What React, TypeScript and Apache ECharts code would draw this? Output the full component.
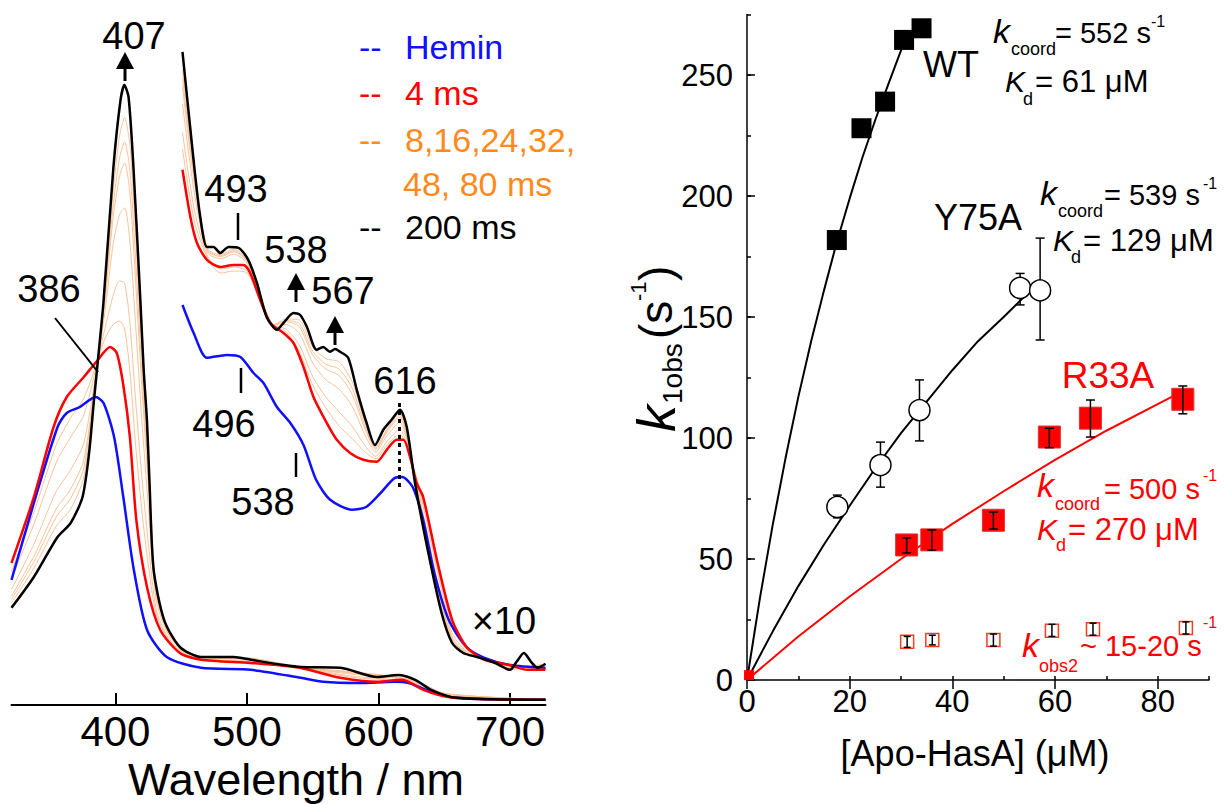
import React, { useEffect, useRef } from "react";
import * as echarts from "echarts";

const FONT = "Liberation Sans, Arial, Helvetica, sans-serif";

// ---------------- Left panel: spectra (wavelength nm, relative absorbance) ----------------
const hemin: [number, number][] = [
  [321, 31.3], [338, 50.5], [356, 69.5], [363, 73], [373, 74.5], [385, 77], [391, 75.5], [399, 67],
  [406, 52], [414, 33.8], [424, 18.8], [439, 12], [465, 9.3], [503, 8.8], [541, 6.8], [558, 5.8],
  [585, 5.5], [612, 5.8], [623, 5.5], [640, 3.3], [659, 1.8], [727, 1.3],
];
const ms4: [number, number][] = [
  [321, 35.5], [338, 52], [353, 69.5], [363, 77], [376, 82], [386, 86], [396, 89.5], [401, 88],
  [406, 80], [411, 67], [416, 46], [424, 29.5], [434, 18.8], [449, 13], [465, 11.3], [503, 10.5],
  [540, 9.3], [571, 6.8], [599, 5.8], [618, 6.3], [634, 3.8], [653, 2], [677, 1.5], [727, 1.3],
];
const ms200: [number, number][] = [
  [321, 24.3], [338, 32], [356, 42], [366, 45.5], [375, 52], [380, 63], [383.5, 75.5], [386, 83.8],
  [391, 101], [398.5, 134.5], [403.8, 151], [406.8, 155], [410, 152], [413.7, 134.5], [419, 101],
  [421.5, 83.8], [424, 71], [426, 55], [429, 34], [437, 21.3], [449, 14.5], [465, 12], [490, 12],
  [503, 11.3], [528, 10], [541, 9.5], [571, 9.3], [599, 7], [615, 7.5], [628, 6.3], [640, 3.8],
  [659, 1.8], [727, 1.3],
];
const wlMid = [321, 338, 355, 366, 376, 386, 392, 398, 403, 407, 411, 415, 420, 425, 431, 440, 452, 470, 500, 540, 580, 610, 630, 650, 727];
const ms8 = [33.4, 48.2, 65, 71.8, 76.7, 85.6, 91.6, 95, 96, 94, 83.4, 66.4, 48.8, 35, 22.7, 16.6, 12.8, 11.2, 10.8, 9.3, 6.9, 6.2, 5.2, 2.4, 1.3];
const ms16 = [31.7, 45.2, 60.6, 67, 72.5, 85.3, 94.1, 102, 106, 105.5, 95.5, 77.8, 57.4, 40.6, 24, 17, 13, 11.3, 11, 9.4, 7.2, 6.4, 5.3, 2.5, 1.3];
const ms24 = [28.9, 40.2, 53.4, 58.8, 65.5, 84.7, 98.2, 114.6, 122.5, 124.3, 115.8, 96.8, 71.6, 49.8, 26.3, 17.8, 13.4, 11.6, 11.4, 9.4, 7.7, 6.8, 5.6, 2.7, 1.3];
const ms32 = [27.2, 37.2, 49, 54, 61.3, 84.4, 100.7, 121, 132, 135.5, 128, 108, 80.2, 55.4, 27.7, 18.2, 13.6, 11.7, 11.6, 9.4, 8, 7, 5.7, 2.8, 1.3];
const ms48 = [26.4, 35.8, 47, 51.7, 59.3, 84.2, 101.9, 124, 136.5, 140.8, 133.6, 113.6, 84.2, 58, 28.3, 18.4, 13.7, 11.8, 11.7, 9.5, 8.1, 7.1, 5.8, 2.9, 1.3];
const ms80 = [25.5, 34.2, 44.7, 49, 57, 84, 103.2, 127.3, 142, 146.8, 140, 119.6, 88.7, 61, 29, 18.7, 13.8, 11.9, 11.8, 9.5, 8.3, 7.2, 5.9, 2.9, 1.3];

// x10 expanded visible region (offset)
const heminX10: [number, number][] = [
  [451, 100], [459.5, 93], [469.6, 86.8], [484.8, 87.5], [495, 87], [505, 83], [512.6, 80.5],
  [522.8, 74.5], [533, 70.5], [543, 65], [552.6, 56.3], [563.3, 51.3], [579.8, 48.8], [590.6, 49.5],
  [601.6, 53], [612.5, 56.8], [618, 57], [626, 54.5], [634, 46.3], [642.5, 33], [653.4, 21.3],
  [667, 14.5], [680.6, 11.8], [700, 10], [727, 9.3],
];
const ms4X10: [number, number][] = [
  [451, 133.8], [457, 122], [462, 115.5], [469.6, 111.3], [479.7, 109.5], [489.8, 110], [497.4, 110],
  [502.5, 108], [510, 101.3], [517.7, 95.5], [527.8, 93], [535.4, 90.5], [543, 84.5], [550.6, 77],
  [560.7, 70.5], [568.3, 66.3], [578.4, 63], [588.5, 61.3], [598.7, 60.8], [606.3, 63.8], [613.9, 66.3],
  [619, 66.3], [624, 62], [629, 55.5], [634, 52], [645, 35.5], [656, 21.3], [667, 14.5], [680.6, 11.3],
  [699.7, 10], [713, 8.8], [727, 8.8],
];
const ms200X10: [number, number][] = [
  [451, 163.3], [459.5, 136], [464.5, 122], [469.6, 114.5], [474.6, 114.5], [479.7, 113], [486, 114.5],
  [493.6, 114.3], [501, 111.3], [507.6, 105.5], [515, 97], [522.8, 93.8], [527.8, 95.5], [535.4, 98],
  [540.5, 97.5], [545.6, 94.5], [553, 88.8], [558, 89.5], [563, 88.3], [567, 89], [570.8, 88.3],
  [577, 86.8], [583.5, 78.8], [591, 70.5], [597.4, 65], [603.7, 68.8], [610, 71.3], [616.4, 73.8],
  [621.5, 69.5], [627.8, 55.5], [637, 39.5], [648, 23], [656, 15.5], [664.5, 13], [675, 12],
  [689, 10.5], [700, 8.8], [705, 10.8], [710.6, 13], [716, 10.8], [721, 9.3], [727, 10.3],
];
const wlX10 = [451, 460, 470, 480, 490, 500, 510, 520, 530, 540, 550, 560, 570, 580, 590, 598, 606, 616, 625, 635, 645, 656, 667, 680, 700, 727];
const ms8X10 = [139, 121, 111.7, 108, 108.5, 108, 101.5, 95, 93.2, 88.2, 80, 74.3, 69.8, 66.6, 63.2, 61.6, 64.8, 67.7, 61.2, 49.5, 34, 20.2, 14.2, 11.3, 9.8, 9.1];
const ms16X10 = [143.2, 123.8, 112.2, 109, 109.5, 108.5, 101.7, 95, 93.9, 89.9, 82.1, 77, 73.3, 69.7, 64.7, 62.2, 65.7, 68.9, 61.3, 48.3, 32.8, 19.3, 13.9, 11.4, 9.6, 9.4];
const ms24X10 = [150.3, 128, 113.1, 111.6, 112.7, 110.5, 102, 95, 95.1, 92.8, 85.5, 81.3, 79, 74.7, 67.3, 63.3, 67.1, 70.7, 61.6, 46.3, 30.8, 17.9, 13.4, 11.4, 9.3, 9.8];
const ms32X10 = [154.6, 130.6, 113.6, 112.1, 113.3, 110.9, 102.2, 95, 95.8, 94.5, 87.5, 84, 82.4, 77.7, 68.8, 63.9, 68, 71.9, 61.7, 45.1, 29.6, 17, 13.2, 11.4, 9.1, 10];
const ms48X10 = [156.6, 131.8, 113.8, 112.3, 113.6, 111, 102.3, 95, 96.1, 95.3, 88.4, 85.2, 84, 79.2, 69.5, 64.2, 68.4, 72.4, 61.8, 44.5, 29, 16.6, 13, 11.5, 9, 10.2];
const ms80X10 = [158.9, 133.1, 114.1, 112.6, 114, 111.2, 102.4, 95, 96.5, 96.2, 89.5, 86.6, 85.8, 80.8, 70.4, 64.5, 68.7, 73, 61.9, 43.9, 28.4, 16.1, 12.9, 11.5, 8.9, 10.3];
const peak616: [number, number][] = [[616, 75.5], [616, 53.7]];
const leftTicks = [400, 500, 600, 700];

// ---------------- Right panel: kinetics ----------------
const wtConc = [17.5, 22.3, 26.9, 30.6, 34];
const wtK = [181.8, 228, 239, 264.5, 269.3];
const wtFitX = [0, 2.5, 5, 7.5, 10, 12.5, 15, 17.5, 20, 22.5, 25, 27.5, 30.5];
const wtFitY = [0, 33.6, 64, 91.6, 117, 140, 161, 181, 199, 216, 231.5, 246, 263];

const y75Conc = [17.6, 26, 33.6, 53.2, 57.1];
const y75K = [71.5, 88.8, 111.5, 162, 161];
const y75Lo = [67, 79.7, 98.8, 155, 140.5];
const y75Hi = [76.4, 98.3, 124, 168, 182.6];
const y75FitX = [0, 5, 10, 15, 20, 25, 30, 35, 40, 45, 50, 54.3];
const y75FitY = [0, 20, 38.8, 56, 72, 87.5, 102, 115, 128, 140, 150, 159];

const r33Conc = [31.1, 36, 48, 58.9, 66.9, 84.9];
const r33K = [55.8, 57.9, 66, 100.4, 108.2, 116];
const r33Lo = [52.5, 53.7, 62.4, 96, 100.4, 110];
const r33Hi = [58.7, 62, 69.4, 104, 115.7, 121.5];
const r33FitX = [0, 10, 20, 30, 40, 50, 60, 70, 80, 85];
const r33FitY = [0, 18, 34.5, 50, 64.5, 78, 91, 103, 114, 119.5];
const originPoint: [number, number][] = [[0.4, 2]];

const k2Conc = [31.2, 36.1, 48, 59.4, 67.4, 85.5];
const k2 = [15.8, 16.5, 16.5, 20.4, 21, 21.5];
const k2Lo = [13.5, 14.5, 14, 18, 18.5, 19];
const k2Hi = [18, 18.5, 19, 23, 23.5, 24];

const BLUE = "#1010ff";
const RED = "#ff0000";
const ORANGE_TXT = "#ff8a1c";
const ORANGE_LINE = "#f8c39a";

const zip = (a: number[], b: number[]) => a.map((v, i) => [v, b[i]]);

function T(x: number, y: number, text: string, size: number, color = "#000", opts: any = {}) {
  const align = opts.align || "left";
  return {
    type: "text",
    x,
    y,
    silent: true,
    z: 100,
    style: {
      text,
      fontSize: size,
      fontFamily: FONT,
      fontStyle: opts.italic ? "italic" : "normal",
      fill: color,
      textAlign: align,
      align,
      textVerticalAlign: "middle",
      verticalAlign: "middle",
    },
  };
}
function L(x1: number, y1: number, x2: number, y2: number, w = 2.5, color = "#000") {
  return { type: "line", silent: true, z: 100, shape: { x1, y1, x2, y2 }, style: { stroke: color, lineWidth: w } };
}
function arrow(x: number, tip: number) {
  return [
    { type: "polygon", silent: true, z: 100, shape: { points: [[x, tip], [x - 9, tip + 17], [x + 9, tip + 17]] }, style: { fill: "#000" } },
    L(x, tip + 16, x, tip + 29, 3),
  ];
}

function lineSeries(data: any[], color: string, width: number, xi = 0, z = 2, smooth: any = 0.25) {
  return {
    type: "line",
    xAxisIndex: xi,
    yAxisIndex: xi,
    data,
    showSymbol: false,
    symbol: "none",
    smooth,
    lineStyle: { color, width },
    z,
    silent: true,
  };
}

function errSeries(x: number[], lo: number[], hi: number[], cap: number, z: number) {
  return {
    type: "custom",
    xAxisIndex: 1,
    yAxisIndex: 1,
    z,
    silent: true,
    data: x.map((v, i) => [v, lo[i], hi[i]]),
    encode: { x: 0, y: [1, 2] },
    renderItem: (params: any, api: any) => {
      const xv = api.value(0);
      const a = api.coord([xv, api.value(1)]);
      const b = api.coord([xv, api.value(2)]);
      const st = { stroke: "#000", lineWidth: 1.5 };
      return {
        type: "group",
        children: [
          { type: "line", shape: { x1: a[0], y1: a[1], x2: b[0], y2: b[1] }, style: st },
          { type: "line", shape: { x1: a[0] - cap, y1: a[1], x2: a[0] + cap, y2: a[1] }, style: st },
          { type: "line", shape: { x1: b[0] - cap, y1: b[1], x2: b[0] + cap, y2: b[1] }, style: st },
        ],
      };
    },
  };
}

export default function App() {
  const ref = useRef<HTMLDivElement>(null);
  useEffect(() => {
    if (!ref.current) return;
    const chart = echarts.init(ref.current, null, { renderer: "svg" });
    const axisBlack = { color: "#000", width: 1.5 };

    const graphics: any[] = [
      // left annotations
      T(134, 36, "407", 38, "#000", { align: "center" }),
      ...arrow(125, 52),
      T(49, 289, "386", 38, "#000", { align: "center" }),
      L(55, 318, 98, 372, 2),
      T(236, 189, "493", 38, "#000", { align: "center" }),
      L(238, 213, 238, 240),
      T(296, 250, "538", 38, "#000", { align: "center" }),
      ...arrow(296, 273),
      T(343, 291, "567", 38, "#000", { align: "center" }),
      ...arrow(335, 316),
      T(405, 381, "616", 38, "#000", { align: "center" }),
      T(224, 424, "496", 38, "#000", { align: "center" }),
      L(241, 368, 241, 393),
      T(263, 502, "538", 38, "#000", { align: "center" }),
      L(296, 453, 296, 477),
      T(504, 621, "×10", 38, "#000", { align: "center" }),
      // legend
      T(359, 47, "--", 34, BLUE), T(405, 47, "Hemin", 34, BLUE),
      T(359, 93, "--", 34, RED), T(405, 93, "4 ms", 34, RED),
      T(359, 140, "--", 34, ORANGE_TXT), T(405, 140, "8,16,24,32,", 34, ORANGE_TXT),
      T(403, 184, "48, 80 ms", 34, ORANGE_TXT),
      T(359, 227, "--", 34, "#000"), T(405, 227, "200 ms", 34, "#000"),
      T(296, 779, "Wavelength / nm", 45, "#000", { align: "center" }),
      // right annotations
      T(951, 64, "WT", 36, "#000", { align: "center" }),
      T(993, 31, "k", 34, "#000", { italic: true }),
      T(1011, 49, "coord", 18),
      T(1055, 33, "= 552 s", 29),
      T(1151, 21, "-1", 16),
      T(1005, 81, "K", 30, "#000", { italic: true }),
      T(1023, 99, "d", 18),
      T(1035, 81, "= 61 μM", 31),

      T(978, 217, "Y75A", 36, "#000", { align: "center" }),
      T(1040, 193, "k", 34, "#000", { italic: true }),
      T(1058, 211, "coord", 18),
      T(1104, 195, "= 539 s", 29),
      T(1203, 183, "-1", 16),
      T(1053, 240, "K", 30, "#000", { italic: true }),
      T(1071, 257, "d", 18),
      T(1083, 240, "= 129 μM", 31),

      T(1108, 375, "R33A", 37, RED, { align: "center" }),
      T(1037, 485, "k", 34, RED, { italic: true }),
      T(1055, 504, "coord", 18, RED),
      T(1104, 489, "= 500 s", 29, RED),
      T(1203, 475, "-1", 16, RED),
      T(1037, 529, "K", 30, RED, { italic: true }),
      T(1056, 545, "d", 18, RED),
      T(1068, 529, "= 270 μM", 31, RED),

      T(1022, 645, "k", 34, RED, { italic: true }),
      T(1039, 666, "obs2", 18, RED),
      T(1080, 646, "~ 15-20 s", 29, RED),
      T(1203, 622, "-1", 16, RED),

      T(975, 753, "[Apo-HasA] (μM)", 36, "#000", { align: "center" }),
      {
        type: "group",
        x: 656,
        y: 432,
        rotation: Math.PI / 2,
        silent: true,
        children: [
          T(0, 0, "k", 54, "#000", { italic: true }),
          T(28, 16, "1obs", 28),
          T(93, 0, "(s", 46),
          T(131, -18, "-1", 22),
          T(151, 0, ")", 46),
        ],
      },
    ];

    const option: any = {
      animation: false,
      backgroundColor: "#fff",
      grid: [
        { left: 11.5, top: 25, width: 534, height: 680 },
        { left: 747, top: 14.5, width: 462, height: 665.5 },
      ],
      xAxis: [
        {
          gridIndex: 0, type: "value", min: 321, max: 727,
          axisLine: { show: true, onZero: false, lineStyle: { color: "#000", width: 2 } },
          axisTick: { show: true, inside: true, length: 12, customValues: leftTicks, lineStyle: { color: "#000", width: 2 } },
          axisLabel: { customValues: leftTicks, fontSize: 42, color: "#000", fontFamily: FONT, margin: 5 },
          splitLine: { show: false },
        },
        {
          gridIndex: 1, type: "value", min: 0, max: 90, interval: 10,
          axisLine: { show: true, onZero: false, lineStyle: axisBlack },
          axisTick: { show: true, inside: true, length: 4, lineStyle: axisBlack },
          axisLabel: {
            fontSize: 31, color: "#000", fontFamily: FONT, margin: 6,
            formatter: (v: number) => (v % 20 === 0 && v < 90 ? String(v) : ""),
          },
          splitLine: { show: false },
        },
        {
          gridIndex: 1, type: "value", min: 0, max: 90,
          axisLine: { show: false },
          axisTick: { show: true, inside: true, length: 9, customValues: [0, 20, 40, 60, 80], lineStyle: axisBlack },
          axisLabel: { show: false },
          splitLine: { show: false },
        },
      ],
      yAxis: [
        { gridIndex: 0, type: "value", min: 0, max: 170, show: false },
        {
          gridIndex: 1, type: "value", min: 0, max: 275, interval: 25, position: "left",
          axisLine: { show: true, onZero: false, lineStyle: axisBlack },
          axisTick: { show: true, inside: true, length: 4, lineStyle: axisBlack },
          axisLabel: {
            fontSize: 31, color: "#000", fontFamily: FONT, margin: 14,
            formatter: (v: number) => (v % 50 === 0 ? String(v) : ""),
          },
          splitLine: { show: false },
        },
        {
          gridIndex: 1, type: "value", min: 0, max: 275, position: "left",
          axisLine: { show: false },
          axisTick: { show: true, inside: true, length: 8, customValues: [0, 50, 100, 150, 200, 250], lineStyle: axisBlack },
          axisLabel: { show: false },
          splitLine: { show: false },
        },
      ],
      series: [
        // intermediate traces
        ...[ms8, ms16, ms24, ms32, ms48, ms80].map((a) => lineSeries(zip(wlMid, a), ORANGE_LINE, 1)),
        ...[ms8X10, ms16X10, ms24X10, ms32X10, ms48X10, ms80X10].map((a) => lineSeries(zip(wlX10, a), ORANGE_LINE, 1)),
        lineSeries(hemin, BLUE, 2.5, 0, 3),
        lineSeries(heminX10, BLUE, 2.5, 0, 3),
        lineSeries(ms4, RED, 2.5, 0, 3),
        lineSeries(ms4X10, RED, 2.5, 0, 3),
        lineSeries(ms200, "#000", 2.5, 0, 4),
        lineSeries(ms200X10, "#000", 2.5, 0, 4),
        {
          type: "line", xAxisIndex: 0, yAxisIndex: 0, data: peak616, showSymbol: false, symbol: "none",
          lineStyle: { color: "#000", width: 3, type: [4, 4] }, z: 5, silent: true,
        },
        // right panel fits
        lineSeries(zip(wtFitX, wtFitY), "#000", 2, 1, 2, false),
        lineSeries(zip(y75FitX, y75FitY), "#000", 2, 1, 2, false),
        lineSeries(zip(r33FitX, r33FitY), RED, 2, 1, 2, false),
        // markers
        {
          type: "scatter", xAxisIndex: 1, yAxisIndex: 1, symbol: "rect", symbolSize: 20,
          itemStyle: { color: "#000", opacity: 1 }, data: zip(wtConc, wtK), z: 3, silent: true,
        },
        errSeries(y75Conc, y75Lo, y75Hi, 4.5, 3),
        {
          type: "scatter", xAxisIndex: 1, yAxisIndex: 1, symbol: "circle", symbolSize: 21,
          itemStyle: { color: "#fff", borderColor: "#000", borderWidth: 1.5, opacity: 1 },
          data: zip(y75Conc, y75K), z: 4, silent: true,
        },
        {
          type: "scatter", xAxisIndex: 1, yAxisIndex: 1, symbol: "rect", symbolSize: 22,
          itemStyle: { color: RED, borderColor: "#e03030", borderWidth: 1, opacity: 1 }, data: zip(r33Conc, r33K), z: 3, silent: true,
        },
        {
          type: "scatter", xAxisIndex: 1, yAxisIndex: 1, symbol: "rect", symbolSize: 10,
          itemStyle: { color: RED, opacity: 1 }, data: originPoint, z: 3, silent: true,
        },
        errSeries(r33Conc, r33Lo, r33Hi, 4.5, 5),
        {
          type: "scatter", xAxisIndex: 1, yAxisIndex: 1, symbol: "rect", symbolSize: 13,
          itemStyle: { color: "#fff", borderColor: "#f04020", borderWidth: 1.5, opacity: 1 },
          data: zip(k2Conc, k2), z: 3, silent: true,
        },
        errSeries(k2Conc, k2Lo, k2Hi, 3.5, 5),
      ],
      graphic: { elements: graphics },
    };
    chart.setOption(option);
    return () => chart.dispose();
  }, []);
  return (
    <div
      ref={ref}
      style={{ position: "fixed", left: 0, top: 0, width: 1225, height: 804, background: "#fff" }}
    />
  );
}
